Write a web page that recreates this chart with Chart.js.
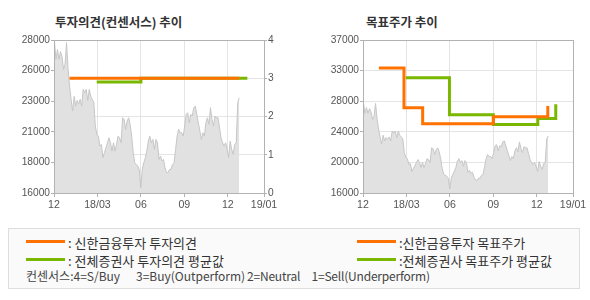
<!DOCTYPE html>
<html><head><meta charset="utf-8">
<script src="https://cdn.jsdelivr.net/npm/chart.js@4/dist/chart.umd.min.js"></script>
<style>
html,body{margin:0;padding:0;background:#fff;width:590px;height:300px;overflow:hidden;}
#wrap{position:relative;width:590px;height:300px;}
.title{position:absolute;top:12px;height:17px;line-height:17px;font:bold 12.5px "Noto Sans CJK KR","Noto Sans",sans-serif;color:#333;white-space:nowrap;}
canvas{position:absolute;top:0;}
#legend{position:absolute;left:8px;top:228px;width:572px;height:61px;border:1px solid #dedede;background:#fafafa;box-sizing:border-box;}
.ll{position:absolute;width:39px;height:3px;}
.lt{position:absolute;height:16px;line-height:16px;font:13px "Noto Sans CJK KR","Noto Sans",sans-serif;color:#333;white-space:pre;}
.nt{position:absolute;height:16px;line-height:16px;font:12px "Noto Sans CJK KR","Noto Sans",sans-serif;color:#444;white-space:pre;}
</style></head>
<body><div id="wrap">
<div class="title" style="left:55px">투자의견(컨센서스) 추이</div>
<div class="title" style="left:366px">목표주가 추이</div>
<canvas id="c1" width="295" height="220" style="left:0"></canvas>
<canvas id="c2" width="295" height="220" style="left:295px"></canvas>
<div id="legend"></div>
</div>
<script>
// ---- data ----
const xTickValues = [0, 3, 6, 9, 12, 14.5];           // months since 2017/12
const xTickLabels = ['12', '18/03', '06', '09', '12', '19/01'];
const opinionTickLabels = ['0', '1', '2', '3', '4'];
const priceTickLabelsLeft = ['16000', '18000', '21000', '23000', '26000', '28000'];
const targetTickLabels = ['16000', '20000', '24000', '28000', '33000', '37000'];

// daily close (won), evenly spaced trading days
const priceFirstMonth = 0.03;
const priceLastMonth = 12.79;
const priceValues = [
 27900,26480,27260,26480,27100,26700,25700,26100,27800,25700,24390,23350,22430,23570,22820,23260,
 23000,23350,22820,24130,23870,24130,23260,24130,23570,23350,23090,21250,20600,20460,19680,19810,
 18770,19160,19550,19940,20330,19940,19290,19940,19290,19810,20460,20330,19940,21900,21770,20990,
 21640,21900,21380,20460,19160,18380,18250,18120,17860,16420,17860,18380,18770,19290,20070,20460,
 19940,20200,19430,20200,19940,18640,18900,18510,18640,17990,17600,17600,17860,17860,18250,18380,
 19430,20470,21000,20730,20730,20470,21250,22170,22300,21510,22170,22040,22690,22820,22170,21510,
 20860,20200,20730,20470,21510,21900,21380,22690,21770,21250,22040,21900,21900,21120,20330,19940,
 19680,19940,19430,18770,20070,19430,19030,19810,19940,23080,23470
];

// investment opinion (4=S/Buy 3=Buy 2=Neutral 1=Sell)
const shinhanOpinionMonths = [1.07, 12.79];
const shinhanOpinion = [3, 3];
const consensusOpinionMonths = [2.95, 6.0, 13.35];
const consensusOpinion = [2.9, 3, 3];

// target price (won)
const shinhanTargetMonths = [1.10, 2.83, 4.12, 9.0, 12.76];
const shinhanTarget = [32520, 27240, 25090, 26040, 27460];
const consensusTargetMonths = [2.95, 5.97, 9.0, 12.07, 13.31];
const consensusTarget = [31230, 26290, 24990, 25790, 27690];

// ---- styles ----
const ORANGE = '#ff7200', GREEN = '#7ab800';
const GRID = '#e4e4e4', FRAME = '#b2b2b2', TICKTXT = '#555';
const yFont = {family: '"Liberation Sans", Arial, sans-serif', size: 10.2};
const xFont = {family: '"Liberation Sans", Arial, sans-serif', size: 10.6};

const pts = (xs, ys) => xs.map((x, i) => ({x, y: ys[i]}));
const pricePoints = priceValues.map((v, i) => ({
  x: priceFirstMonth + i * (priceLastMonth - priceFirstMonth) / (priceValues.length - 1), y: v}));

const frame = {
  id: 'frame',
  afterDatasetsDraw(chart) {
    const a = chart.chartArea, c = chart.ctx;
    c.save(); c.strokeStyle = FRAME; c.lineWidth = 1;
    c.strokeRect(Math.round(a.left) + 0.5, Math.round(a.top) + 0.5,
      Math.round(a.right) - Math.round(a.left), Math.round(a.bottom) - Math.round(a.top));
    c.restore();
  }
};

function evenTicks(n) {
  return s => { const out = []; for (let k = 0; k < n; k++) out.push({value: s.min + k * (s.max - s.min) / (n - 1)}); s.ticks = out; };
}
function xScale() {
  return {
    type: 'linear', position: 'bottom', min: 0, max: 14.5,
    afterBuildTicks: s => { s.ticks = xTickValues.map(v => ({value: v})); },
    afterFit: s => { s.height = 27; s.paddingLeft = 0; s.paddingRight = 0; },
    ticks: {callback: (v, i) => xTickLabels[i], font: xFont, color: TICKTXT, padding: 2, maxRotation: 0, autoSkip: false},
    grid: {color: GRID, tickColor: FRAME, tickLength: 4, drawTicks: true},
    border: {display: false}
  };
}
function priceDataset(axis) {
  return {data: pricePoints, yAxisID: axis, borderColor: '#c6c6c6', borderWidth: 1,
    backgroundColor: '#e1e1e1', fill: 'start', pointRadius: 0, tension: 0, order: 3};
}
function stepDataset(data, color, axis, order) {
  return {data, yAxisID: axis, borderColor: color, borderWidth: 3, stepped: 'before',
    pointRadius: 0, fill: false, order, borderCapStyle: 'butt', borderJoinStyle: 'miter'};
}
const common = {
  responsive: false, animation: false, devicePixelRatio: 1,
  plugins: {legend: {display: false}, tooltip: {enabled: false}, title: {display: false}},
  events: []
};

new Chart(document.getElementById('c1'), {
  type: 'line',
  data: {datasets: [
    stepDataset(pts(shinhanOpinionMonths, shinhanOpinion), ORANGE, 'yO', 1),
    stepDataset(pts(consensusOpinionMonths, consensusOpinion), GREEN, 'yO', 2),
    priceDataset('yP')
  ]},
  options: Object.assign({}, common, {
    layout: {padding: {top: 40, left: 0, right: 0, bottom: 0}},
    scales: {
      x: xScale(),
      yP: {type: 'linear', position: 'left', min: 16000, max: 28000,
        afterBuildTicks: evenTicks(6),
        afterFit: s => { s.width = 54; },
        ticks: {callback: (v, i) => priceTickLabelsLeft[i], font: yFont, color: TICKTXT, padding: 1},
        grid: {drawOnChartArea: false, tickColor: FRAME, tickLength: 3},
        border: {display: false}},
      yO: {type: 'linear', position: 'right', min: 0, max: 4,
        afterBuildTicks: evenTicks(5),
        afterFit: s => { s.width = 31; },
        ticks: {callback: (v, i) => opinionTickLabels[i], font: yFont, color: TICKTXT, padding: 1},
        grid: {color: GRID, tickColor: FRAME, tickLength: 3},
        border: {display: false}}
    }
  }),
  plugins: [frame]
});

new Chart(document.getElementById('c2'), {
  type: 'line',
  data: {datasets: [
    stepDataset(pts(shinhanTargetMonths, shinhanTarget), ORANGE, 'yT', 1),
    stepDataset(pts(consensusTargetMonths, consensusTarget), GREEN, 'yT', 2),
    priceDataset('yT')
  ]},
  options: Object.assign({}, common, {
    layout: {padding: {top: 40, left: 0, right: 17, bottom: 0}},
    scales: {
      x: xScale(),
      yT: {type: 'linear', position: 'left', min: 15890, max: 36240,
        afterBuildTicks: evenTicks(6),
        afterFit: s => { s.width = 68; },
        ticks: {callback: (v, i) => targetTickLabels[i], font: yFont, color: TICKTXT, padding: 1},
        grid: {color: GRID, tickColor: FRAME, tickLength: 3},
        border: {display: false}}
    }
  }),
  plugins: [frame]
});

// ---- legend (HTML) ----
const legendRows = [
  {color: ORANGE, text: ': 신한금융투자 투자의견', lx: 17, tx: 59, y: 12},
  {color: GREEN, text: ': 전체증권사 투자의견 평균값', lx: 17, tx: 59, y: 30},
  {color: ORANGE, text: ':신한금융투자 목표주가', lx: 348, tx: 390, y: 12},
  {color: GREEN, text: ':전체증권사 목표주가 평균값', lx: 348, tx: 390, y: 30}
];
const consensusNote = [
  {text: '컨센서스:4=S/Buy', x: 17, ls: 0},
  {text: '3=Buy(Outperform)', x: 127, ls: 0},
  {text: '2=Neutral', x: 238, ls: -0.2},
  {text: '1=Sell(Underperform)', x: 302.5, ls: -0.2}
];
const lg = document.getElementById('legend');
legendRows.forEach(r => {
  const l = document.createElement('div'); l.className = 'll';
  l.style.cssText = `left:${r.lx}px;top:${r.y - 1.5}px;background:${r.color}`; lg.appendChild(l);
  const t = document.createElement('div'); t.className = 'lt'; t.textContent = r.text;
  t.style.cssText = `left:${r.tx}px;top:${r.y - 8}px`; lg.appendChild(t);
});
consensusNote.forEach(n => {
  const t = document.createElement('div'); t.className = 'nt'; t.textContent = n.text;
  t.style.cssText = `left:${n.x}px;top:${46 - 8}px;letter-spacing:${n.ls}px`; lg.appendChild(t);
});
</script>
</body></html>
